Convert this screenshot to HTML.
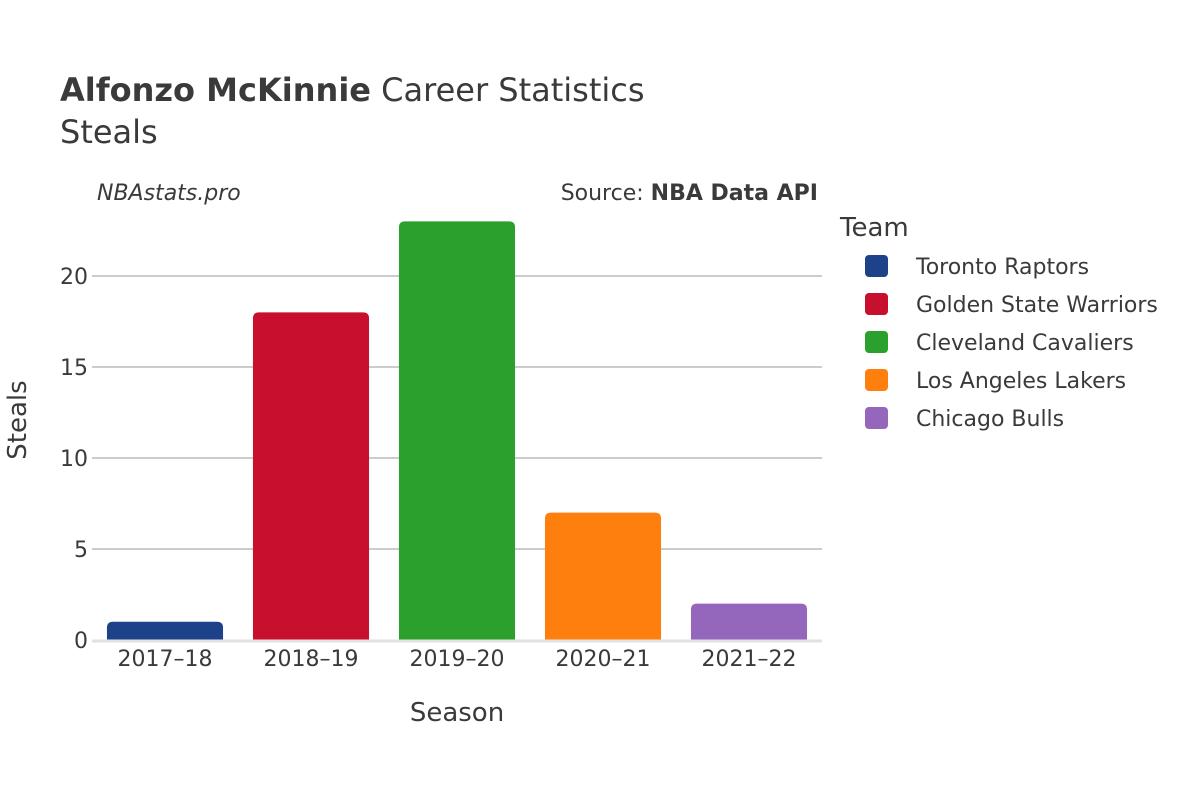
<!DOCTYPE html>
<html><head><meta charset="utf-8"><style>
body{margin:0;background:#fff;}
svg text{font-family:"DejaVu Sans","Liberation Sans",sans-serif;fill:#3a3a3a;}
</style></head><body>
<svg width="1200" height="800" xmlns="http://www.w3.org/2000/svg">
<text x="60" y="101" font-size="32"><tspan font-weight="bold">Alfonzo McKinnie</tspan> Career Statistics</text>
<text x="60" y="143" font-size="32">Steals</text>
<text x="97" y="200" font-size="22" font-style="italic">NBAstats.pro</text>
<text x="818" y="200" font-size="22" text-anchor="end">Source: <tspan font-weight="bold">NBA Data API</tspan></text>
<g id="grid"></g>
<g id="bars"></g>
<g id="xt"></g>
<text x="457" y="721" font-size="26" text-anchor="middle">Season</text>
<text transform="translate(26,420) rotate(-90)" font-size="26" text-anchor="middle">Steals</text>
<text x="840" y="236" font-size="26">Team</text>
<g id="legend"></g>
</svg>
<script>
const seasons=["2017–18","2018–19","2019–20","2020–21","2021–22"];
const steals=[1,18,23,7,2];
const teams=["Toronto Raptors","Golden State Warriors","Cleveland Cavaliers","Los Angeles Lakers","Chicago Bulls"];
const colors=["#1d428a","#c8102e","#2ca02c","#ff7f0e","#9467bd"];
const yTicks=[0,5,10,15,20];
const NS="http://www.w3.org/2000/svg";
const x0=92,x1=822,yZero=640,pxPer=18.2;
const band=(x1-x0)/seasons.length,bw=band*0.795;
const y=v=>yZero-v*pxPer;
function mk(t,a,p){const e=document.createElementNS(NS,t);for(const k in a)e.setAttribute(k,a[k]);p.appendChild(e);return e;}
const g=document.getElementById('grid');
yTicks.forEach(v=>{
 if(v>0){const l=mk('line',{x1:x0,x2:x1,y1:y(v),y2:y(v),stroke:'#999','stroke-width':1},g);
 
 }
 const t=mk('text',{x:x0-4,y:y(v)+8,'font-size':22,'text-anchor':'end'},g);t.textContent=v;
 
 
});
const b=document.getElementById('bars');
steals.forEach((v,i)=>{
 const cx=x0+band*(i+0.5),top=y(v),h=yZero-top,r=Math.min(6,h),L=cx-bw/2,R=cx+bw/2;
 const p=mk('path',{d:`M${L},${yZero}V${top+r}Q${L},${top} ${L+r},${top}H${R-r}Q${R},${top} ${R},${top+r}V${yZero}Z`,fill:colors[i]},b);
 
 
});
const z=mk('line',{x1:x0,x2:x1,y1:yZero+1,y2:yZero+1,stroke:'#e2e2e2','stroke-width':3},b);


const xt=document.getElementById('xt');
seasons.forEach((s,i)=>{
 const t=mk('text',{x:x0+band*(i+0.5),y:666,'font-size':22,'text-anchor':'middle'},xt);t.textContent=s;
 
 
});
const lg=document.getElementById('legend');
teams.forEach((n,i)=>{
 const yy=266+i*38;
 const r=mk('rect',{x:865,y:yy-11,width:23,height:22,rx:4,fill:colors[i]},lg);
 
 
 const t=mk('text',{x:916,y:yy+8,'font-size':22},lg);t.textContent=n;
 
 
});
</script>
</body></html>
